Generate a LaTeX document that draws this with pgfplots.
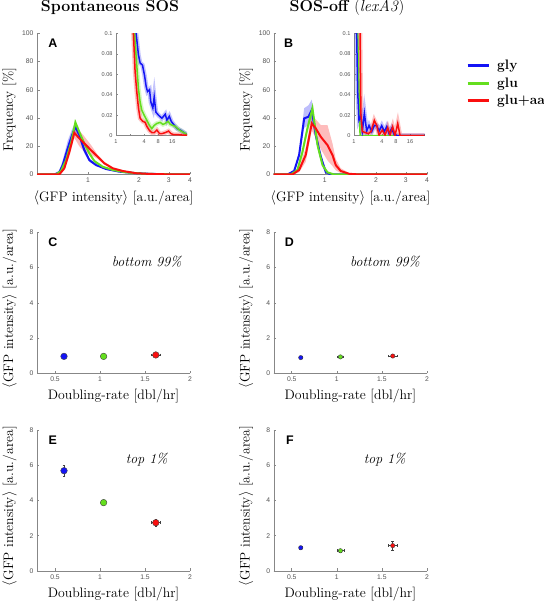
\documentclass[border=0pt]{standalone}
\usepackage{fontspec}
\usepackage{pgfplots}
\usepackage{pgfplotstable}
\pgfplotsset{compat=1.18}
\newfontfamily\tsf{Liberation Sans}
\definecolor{cblue}{RGB}{20,20,245}
\definecolor{cgreen}{RGB}{100,222,30}
\definecolor{cred}{RGB}{250,15,15}
\definecolor{axgray}{RGB}{135,135,135}

% main histograms: x = intensity, y = frequency [%]
\pgfplotstableread{
x y
0.5 0
0.633 0
0.677 1.5
0.709 6.7
0.759 18.5
0.805 27.9
0.842 33.8
0.889 27.9
0.951 17.3
1.018 10.2
1.115 6.7
1.277 3.9
1.53 2.0
1.92 0.9
2.4 0.4
3 0.15
4 0.05
}\Ablue
\pgfplotstableread{
x y
0.5 0
0.647 0
0.693 2.5
0.742 10.2
0.794 22.3
0.842 36.9
0.889 30
0.951 22
1.018 15
1.09 9.5
1.22 5.5
1.40 3.2
1.68 1.5
2.1 0.6
2.6 0.25
3.2 0.1
4 0.03
}\Agreen
\pgfplotstableread{
x y
0.5 0
0.677 0
0.725 4.4
0.777 16.1
0.83 29.5
0.889 25.6
0.951 22
1.04 17.3
1.14 12.6
1.25 7.9
1.4 4.4
1.6 2.5
1.92 0.9
2.3 0.4
3 0.1
4 0
}\Ared
\pgfplotstableread{
x y
0.5 0
0.603 0
0.66 2.5
0.706 13.8
0.756 39.7
0.801 40.9
0.838 45.6
0.885 27.9
0.947 12.6
1.014 1.6
1.085 0
1.5 0
4 0
}\Bblue
\pgfplotstableread{
x y
0.5 0
0.63 0
0.69 3.2
0.739 16.1
0.79 32.6
0.846 46.8
0.906 20.8
0.969 6.7
1.037 1.5
1.136 0
4 0
}\Bgreen
\pgfplotstableread{
x y
0.5 0
0.645 0
0.706 3.2
0.772 13.8
0.838 36.2
0.885 32.6
0.947 26.7
1.037 20.8
1.11 13.8
1.16 6.7
1.24 2.5
1.39 0.5
1.6 0
4 0
}\Bred

% shaded bands: upper edge forward, lower edge back
\pgfplotstableread{
x y
0.5 0
0.633 0.5
0.677 3
0.709 10
0.759 24
0.805 32
0.842 37
0.889 31
0.951 20
1.018 11.5
1.115 7.5
1.277 4.4
1.53 2.3
1.92 1.1
2.4 0.5
3 0.2
4 0.1
4 0
3 0.1
2.4 0.3
1.92 0.7
1.53 1.7
1.277 3.4
1.115 6
1.018 9
0.951 15
0.889 25
0.842 30
0.805 24
0.759 14
0.709 4
0.677 0.5
0.633 0
0.5 0
}\AblueB
\pgfplotstableread{
x y
0.5 0
0.647 0.3
0.693 3.5
0.742 12
0.794 24.5
0.842 39
0.889 32
0.951 23.5
1.018 16
1.09 10.3
1.22 6
1.40 3.5
1.68 1.7
2.1 0.7
2.6 0.3
3.2 0.15
4 0.06
4 0
3.2 0.05
2.6 0.2
2.1 0.5
1.68 1.3
1.40 2.9
1.22 5
1.09 8.7
1.018 14
0.951 20.5
0.889 28
0.842 34.5
0.794 20
0.742 8.5
0.693 1.5
0.647 0
0.5 0
}\AgreenB
\pgfplotstableread{
x y
0.5 0
0.677 0.5
0.725 6
0.777 19
0.83 33
0.889 31
0.951 27
1.04 21
1.14 14
1.25 9
1.4 5
1.6 2.9
1.92 1.1
2.3 0.5
3 0.15
4 0.05
4 0
3 0.05
2.3 0.3
1.92 0.7
1.6 2.1
1.4 3.8
1.25 7
1.14 11
1.04 14
0.951 16
0.889 20
0.83 26
0.777 13
0.725 3
0.677 0
0.5 0
}\AredB
\pgfplotstableread{
x y
0.5 0
0.603 0
0.66 3.5
0.706 17
0.756 47
0.801 49
0.838 53
0.885 32
0.947 15
1.014 2.5
1.085 0.5
1.5 0
1.085 0
1.014 1
0.947 10.5
0.885 24
0.838 38
0.801 35
0.756 33
0.706 11
0.66 1.5
0.603 0
0.5 0
}\BblueB
\pgfplotstableread{
x y
0.5 0
0.63 0
0.69 4.5
0.739 19
0.79 36
0.846 51
0.906 24
0.969 8.5
1.037 2
1.136 0.3
1.5 0
1.136 0
1.037 1
0.969 5
0.906 18
0.846 42
0.79 29
0.739 13
0.69 2
0.63 0
0.5 0
}\BgreenB
\pgfplotstableread{
x y
0.5 0
0.645 0
0.706 5
0.772 19
0.838 42
0.885 39
0.947 35
1.037 35
1.11 22
1.16 11
1.24 4.5
1.39 1
1.6 0
1.39 0
1.24 1
1.16 3
1.11 6
1.037 10
0.947 18
0.885 26
0.838 31
0.772 9
0.706 1.5
0.645 0
0.5 0
}\BredB

% insets: tail frequencies (fraction)
\pgfplotstableread{
x y
2.3 0.25
2.69 0.1
3.02 0.079
3.28 0.071
3.68 0.069
4.07 0.059
4.42 0.048
4.72 0.043
5.21 0.045
5.56 0.033
6.14 0.027
6.56 0.038
7.13 0.023
8.13 0.020
9.59 0.017
11.3 0.021
12.3 0.015
13.8 0.019
15.2 0.014
17.7 0.010
20.2 0.007
24.6 0.005
30.5 0.002
33 0.001
}\IAblue
\pgfplotstableread{
x y
2.1 0.25
2.48 0.1
2.78 0.069
3.02 0.046
3.28 0.033
3.56 0.025
4.0 0.020
4.57 0.015
5.21 0.010
5.85 0.007
6.56 0.010
7.49 0.012
8.83 0.013
10.1 0.011
11.3 0.012
12.9 0.014
14.5 0.011
16.5 0.010
18.6 0.009
21.9 0.006
25.8 0.004
30.5 0.002
33 0.001
}\IAgreen
\pgfplotstableread{
x y
2.0 0.25
2.36 0.1
2.56 0.0625
2.78 0.043
3.02 0.027
3.28 0.017
3.74 0.014
4.2 0.013
4.57 0.009
5.21 0.005
5.85 0.003
6.56 0.003
7.49 0.0055
8.54 0.002
9.59 0.002
11.3 0.003
13.3 0.0045
15 0.002
17.1 0.001
21.9 0.001
28 0.0005
33 0.0005
}\IAred
\pgfplotstableread{
x y
1 0.3
1.14 0.1
1.2 0.043
1.28 0.015
1.41 0.019
1.51 0.0045
1.67 0.022
1.87 0.0045
2.10 0.010
2.4 0.004
2.73 0.010
3.08 0.0098
3.45 0.0045
3.94 0.0098
4.49 0.004
5.04 0.0088
5.66 0.002
6.45 0.007
7.37 0.0006
8.98 0
33 0
}\IBblue
\pgfplotstableread{
x y
1 0.3
1.2 0.1
1.35 0
33 0
}\IBgreen
\pgfplotstableread{
x y
1 0.4
1.35 0.1
1.41 0.02
1.51 0.004
1.78 0.003
2.03 0.002
2.32 0.004
2.73 0.015
3.08 0.010
3.45 0.0006
4.06 0.0055
4.64 0.0006
5.3 0.0078
5.95 0.0006
6.77 0.0088
7.6 0
8.7 0.012
9.76 0
33 0
}\IBred

\pgfplotsset{every axis/.append style={scale only axis, anchor=south west,
   axis x line*=bottom, axis y line*=left, axis line style={axgray},
   tick style={axgray, line width=0.5bp}, major tick length=2.5bp,
   tick label style={font=\tsf\fontsize{6.8}{7}\selectfont, text=black!68},
   label style={font=\fontsize{13.8}{15}\selectfont}},
 every axis x label/.style={at={(axis description cs:0.5,-0.165)}, anchor=center},
 every axis y label/.style={at={(axis description cs:-0.18,0.46)}, rotate=90, anchor=center},
 /pgf/number format/assume math mode=true}
\tikzset{
 myletter/.style={font=\tsf\bfseries\fontsize{12.5}{13}\selectfont},
 mynote/.style={font=\itshape\fontsize{14}{15}\selectfont},
}

\begin{document}
\begin{tikzpicture}
\useasboundingbox (0,0) rectangle (544bp,602bp);

\node[font=\bfseries\fontsize{16}{17}\selectfont] at (110bp,594.5bp) {Spontaneous SOS};
\node[font=\fontsize{16}{17}\selectfont] at (347bp,594.5bp) {\textbf{SOS-off} (\textit{lexA3})};

% ---------- A ----------
\begin{axis}[at={(37bp,427.5bp)}, width=153bp, height=141.2bp,
  x coord trafo/.code={\pgfmathparse{log10(#1)}}, x coord inv trafo/.code={\pgfmathparse{10^(#1)}},
  xmin=0.5, xmax=4, ymin=0, ymax=100,
  xtick={1,2,3,4}, xticklabels={1,2,3,4}, ytick={0,20,40,60,80,100},
  xlabel={$\langle$GFP intensity$\rangle$ [a.u./area]}, ylabel={Frequency [\%]}]
\addplot[fill=cblue, fill opacity=0.28, draw=none] table{\AblueB};
\addplot[fill=cgreen, fill opacity=0.28, draw=none] table{\AgreenB};
\addplot[fill=cred, fill opacity=0.28, draw=none] table{\AredB};
\addplot[cblue, line width=2bp] table{\Ablue};
\addplot[cgreen, line width=2bp] table{\Agreen};
\addplot[cred, line width=2bp] table{\Ared};
\node[myletter] at (rel axis cs:0.103,0.929) {A};
\end{axis}
\begin{axis}[at={(116bp,466.3bp)}, width=71bp, height=102.4bp,
  x coord trafo/.code={\pgfmathparse{ln(#1)/ln(2)}}, x coord inv trafo/.code={\pgfmathparse{2^(#1)}},
  xmin=1, xmax=33, ymin=0, ymax=0.1,
  xtick={1,2,4,8,16,32}, xticklabels={1,,4,8,16,}, ytick={0,0.02,0.04,0.06,0.08,0.1},
  yticklabels={0,0.02,0.04,0.06,0.08,0.1}, major tick length=1.8bp,
  tick label style={font=\tsf\fontsize{5.6}{6}\selectfont}]
\addplot[cblue, line width=4.5bp, opacity=0.25] table{\IAblue};
\addplot[cgreen, line width=4.5bp, opacity=0.25] table{\IAgreen};
\addplot[cred, line width=4.5bp, opacity=0.25] table{\IAred};
\addplot[cblue, line width=1.5bp] table{\IAblue};
\addplot[cgreen, line width=1.5bp] table{\IAgreen};
\addplot[cred, line width=1.5bp] table{\IAred};
\end{axis}

% ---------- B ----------
\begin{axis}[at={(273.7bp,427.5bp)}, width=153.3bp, height=141.2bp,
  x coord trafo/.code={\pgfmathparse{log10(#1)}}, x coord inv trafo/.code={\pgfmathparse{10^(#1)}},
  xmin=0.5, xmax=4, ymin=0, ymax=100,
  xtick={1,2,3,4}, xticklabels={1,2,3,4}, ytick={0,20,40,60,80,100},
  xlabel={$\langle$GFP intensity$\rangle$ [a.u./area]}, ylabel={Frequency [\%]},
  legend style={draw=none, fill=none, at={(axis description cs:1.235,0.84)}, anchor=north west,
    font=\bfseries\fontsize{13.8}{15}\selectfont, row sep=2.5bp,
    cells={anchor=west, inner sep=2bp, font=\bfseries\fontsize{13.8}{15}\selectfont},
    /tikz/every odd column/.append style={column sep=5bp}},
  legend image code/.code={\draw[#1] (0bp,0bp) -- (21bp,0bp);}]
\addplot[fill=cblue, fill opacity=0.28, draw=none, forget plot] table{\BblueB};
\addplot[fill=cgreen, fill opacity=0.28, draw=none, forget plot] table{\BgreenB};
\addplot[fill=cred, fill opacity=0.28, draw=none, forget plot] table{\BredB};
\addplot[cblue, line width=2bp, forget plot] table{\Bblue};
\addplot[cgreen, line width=2bp, forget plot] table{\Bgreen};
\addplot[cred, line width=2bp, forget plot] table{\Bred};
\addlegendimage{cblue, line width=3bp}\addlegendentry{gly}
\addlegendimage{cgreen, line width=3bp}\addlegendentry{glu}
\addlegendimage{cred, line width=3bp}\addlegendentry{glu+aa}
\node[myletter] at (rel axis cs:0.098,0.929) {B};
\end{axis}
\begin{axis}[at={(354bp,466.3bp)}, width=70.7bp, height=102.4bp,
  x coord trafo/.code={\pgfmathparse{ln(#1)/ln(2)}}, x coord inv trafo/.code={\pgfmathparse{2^(#1)}},
  xmin=1, xmax=33, ymin=0, ymax=0.1,
  xtick={1,2,4,8,16,32}, xticklabels={1,,4,8,16,}, ytick={0,0.02,0.04,0.06,0.08,0.1},
  yticklabels={0,0.02,0.04,0.06,0.08,0.1}, major tick length=1.8bp,
  tick label style={font=\tsf\fontsize{5.6}{6}\selectfont}]
\addplot[cblue, line width=4.5bp, opacity=0.25] table{\IBblue};
\addplot[cred, line width=4.5bp, opacity=0.25] table{\IBred};
\addplot[black!55, line width=1.2bp] coordinates {(8,0) (33,0)};
\addplot[cgreen, line width=1.5bp] table{\IBgreen};
\addplot[cblue, line width=1.5bp] table{\IBblue};
\addplot[cred, line width=1.5bp] table{\IBred};
\end{axis}

% ---------- C ----------
\begin{axis}[at={(37bp,228.7bp)}, width=153bp, height=141bp,
  xmin=0.3, xmax=2, ymin=0, ymax=8,
  xtick={0.5,1,1.5,2}, xticklabels={0.5,1,1.5,2}, ytick={0,2,4,6,8},
  xlabel={Doubling-rate [dbl/hr]}, ylabel={$\langle$GFP intensity$\rangle$ [a.u./area]},
  every axis plot/.append style={only marks, mark=*, mark size=3.3bp, draw=black!75, line width=0.4bp,
   error bars/x dir=both, error bars/x explicit, error bars/y dir=both, error bars/y explicit,
   error bars/error bar style={black!75, line width=0.5bp},
   error bars/error mark options={rotate=90, mark size=1.3bp, black!75, line width=0.5bp}}]
\addplot[fill=cblue] table[x=x,y=y,x error=ex,y error=ey]{
x y ex ey
0.6 0.96 0.01 0.03
};
\addplot[fill=cgreen] table[x=x,y=y,x error=ex,y error=ey]{
x y ex ey
1.04 0.96 0.01 0.03
};
\addplot[fill=cred] table[x=x,y=y,x error=ex,y error=ey]{
x y ex ey
1.62 1.04 0.05 0.08
};
\node[myletter] at (rel axis cs:0.103,0.929) {C};
\node[mynote] at (rel axis cs:0.717,0.791) {bottom 99\%};
\end{axis}

% ---------- D ----------
\begin{axis}[at={(273.7bp,228.7bp)}, width=153.3bp, height=141bp,
  xmin=0.3, xmax=2, ymin=0, ymax=8,
  xtick={0.5,1,1.5,2}, xticklabels={0.5,1,1.5,2}, ytick={0,2,4,6,8},
  xlabel={Doubling-rate [dbl/hr]}, ylabel={$\langle$GFP intensity$\rangle$ [a.u./area]},
  every axis plot/.append style={only marks, mark=*, mark size=2.2bp, draw=black!75, line width=0.4bp,
   error bars/x dir=both, error bars/x explicit, error bars/y dir=both, error bars/y explicit,
   error bars/error bar style={black!75, line width=0.5bp},
   error bars/error mark options={rotate=90, mark size=1.3bp, black!75, line width=0.5bp}}]
\addplot[fill=cblue] table[x=x,y=y,x error=ex,y error=ey]{
x y ex ey
0.6 0.89 0.02 0.05
};
\addplot[fill=cgreen] table[x=x,y=y,x error=ex,y error=ey]{
x y ex ey
1.04 0.93 0.03 0.04
};
\addplot[fill=cred] table[x=x,y=y,x error=ex,y error=ey]{
x y ex ey
1.62 0.98 0.05 0.06
};
\node[myletter] at (rel axis cs:0.102,0.929) {D};
\node[mynote] at (rel axis cs:0.726,0.791) {bottom 99\%};
\end{axis}

% ---------- E ----------
\begin{axis}[at={(37bp,31bp)}, width=153bp, height=141bp,
  xmin=0.3, xmax=2, ymin=0, ymax=8,
  xtick={0.5,1,1.5,2}, xticklabels={0.5,1,1.5,2}, ytick={0,2,4,6,8},
  xlabel={Doubling-rate [dbl/hr]}, ylabel={$\langle$GFP intensity$\rangle$ [a.u./area]},
  every axis plot/.append style={only marks, mark=*, mark size=3.3bp, draw=black!75, line width=0.4bp,
   error bars/x dir=both, error bars/x explicit, error bars/y dir=both, error bars/y explicit,
   error bars/error bar style={black!75, line width=0.5bp},
   error bars/error mark options={rotate=90, mark size=1.3bp, black!75, line width=0.5bp}}]
\addplot[fill=cblue] table[x=x,y=y,x error=ex,y error=ey]{
x y ex ey
0.6 5.69 0.01 0.31
};
\addplot[fill=cgreen] table[x=x,y=y,x error=ex,y error=ey]{
x y ex ey
1.04 3.88 0.02 0.1
};
\addplot[fill=cred] table[x=x,y=y,x error=ex,y error=ey]{
x y ex ey
1.62 2.74 0.05 0.2
};
\node[myletter] at (rel axis cs:0.103,0.929) {E};
\node[mynote] at (rel axis cs:0.717,0.787) {top 1\%};
\end{axis}

% ---------- F ----------
\begin{axis}[at={(273.7bp,31bp)}, width=153.3bp, height=141bp,
  xmin=0.3, xmax=2, ymin=0, ymax=8,
  xtick={0.5,1,1.5,2}, xticklabels={0.5,1,1.5,2}, ytick={0,2,4,6,8},
  xlabel={Doubling-rate [dbl/hr]}, ylabel={$\langle$GFP intensity$\rangle$ [a.u./area]},
  every axis plot/.append style={only marks, mark=*, mark size=2.2bp, draw=black!75, line width=0.4bp,
   error bars/x dir=both, error bars/x explicit, error bars/y dir=both, error bars/y explicit,
   error bars/error bar style={black!75, line width=0.5bp},
   error bars/error mark options={rotate=90, mark size=1.3bp, black!75, line width=0.5bp}}]
\addplot[fill=cblue] table[x=x,y=y,x error=ex,y error=ey]{
x y ex ey
0.6 1.32 0.02 0.08
};
\addplot[fill=cgreen] table[x=x,y=y,x error=ex,y error=ey]{
x y ex ey
1.04 1.15 0.04 0.07
};
\addplot[fill=cred] table[x=x,y=y,x error=ex,y error=ey]{
x y ex ey
1.62 1.44 0.05 0.26
};
\node[myletter] at (rel axis cs:0.106,0.929) {F};
\node[mynote] at (rel axis cs:0.724,0.787) {top 1\%};
\end{axis}
\end{tikzpicture}
\end{document}
